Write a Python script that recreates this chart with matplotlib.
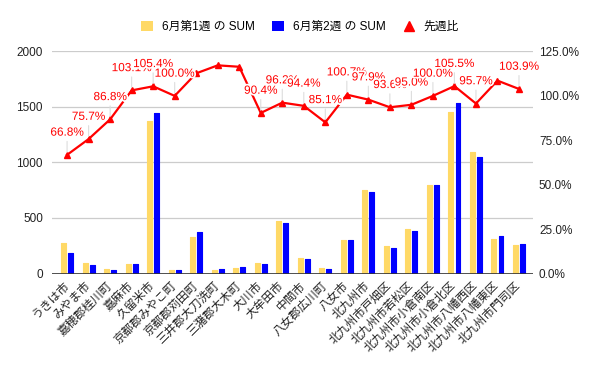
import matplotlib
matplotlib.use('Agg')
import matplotlib.pyplot as plt
from matplotlib.patches import Patch
from matplotlib.lines import Line2D
import matplotlib.patheffects as pe
import numpy as np

plt.rcParams['font.family'] = ['Liberation Sans', 'Noto Sans CJK JP', 'DejaVu Sans']

categories = ['うきは市', 'みやま市', '嘉穂郡桂川町', '嘉麻市', '久留米市', '京都郡みやこ町',
              '京都郡苅田町', '三井郡大刀洗町', '三潴郡大木町', '大川市', '大牟田市', '中間市',
              '八女郡広川町', '八女市', '北九州市', '北九州市戸畑区', '北九州市若松区',
              '北九州市小倉南区', '北九州市小倉北区', '北九州市八幡西区', '北九州市八幡東区',
              '北九州市門司区']
week1 = [272, 99, 38, 82, 1375, 30, 328, 34, 50, 92, 470, 136, 47, 300, 748, 245, 400,
         795, 1453, 1095, 308, 255]
week2 = [182, 75, 33, 85, 1449, 30, 370, 40, 58, 83, 452, 128, 40, 302, 732, 229, 380,
         795, 1533, 1048, 335, 265]
ratio = [66.8, 75.7, 86.8, 103.1, 105.4, 100.0, 112.7, 117.2, 116.4, 90.4, 96.2, 94.4,
         85.1, 100.7, 97.9, 93.6, 95.0, 100.0, 105.5, 95.7, 108.6, 103.9]
show_label = [True] * 6 + [False] * 3 + [True] * 11 + [False, True]

series_names = ['6月第1週 の SUM', '6月第2週 の SUM', '先週比']
left_ticks = [0, 500, 1000, 1500, 2000]
right_ticks = [0, 25, 50, 75, 100, 125]

c1, c2, c3 = '#ffd966', '#0000ff', '#ff0000'

fig = plt.figure(figsize=(6, 3.71), dpi=100)
ax = fig.add_axes([0.0867, 0.2628, 0.8016, 0.5984])
x = np.arange(len(categories))
off, w = 0.165, 0.23
ax.bar(x - off, week1, width=w, color=c1, edgecolor=c1, linewidth=0.8, joinstyle='round', zorder=2)
ax.bar(x + off, week2, width=w, color=c2, edgecolor=c2, linewidth=0.8, joinstyle='round', zorder=2)
ax.set_xlim(-0.7, len(categories) - 1 + 0.65)
ax.set_ylim(0, 2000)
ax.set_yticks(left_ticks)
ax.set_yticklabels([str(t) for t in left_ticks])
ax.yaxis.grid(True, color='#cccccc', lw=0.9)
ax.set_axisbelow(True)
for s in ax.spines.values():
    s.set_visible(False)
ax.axhline(0, color='#333333', lw=1.2, zorder=3)
ax.set_xticks(x)
ax.set_xticklabels(categories, rotation=45, ha='right', va='center', rotation_mode='anchor',
                   fontsize=8.5, color='#222222')
ax.tick_params(axis='x', length=0, pad=7.5)
ax.tick_params(axis='y', length=0, pad=6.5, labelsize=8.5, labelcolor='#222222')

ax2 = ax.twinx()
ax2.set_ylim(0, 125)
for s in ax2.spines.values():
    s.set_visible(False)
ax2.set_yticks(right_ticks)
ax2.set_yticklabels([f'{t:.1f}%' for t in right_ticks])
ax2.tick_params(axis='y', length=0, pad=4.3, labelsize=8.5, labelcolor='#222222')
ax2.plot(x, ratio, color=c3, lw=1.6, marker='^', ms=5, zorder=2)
for i, (v, s) in enumerate(zip(ratio, show_label)):
    if s:
        ax2.annotate(f'{v:.1f}%', xy=(x[i], v), xytext=(0, 16), textcoords='offset points',
                     ha='center', va='center', color=c3, fontsize=8.5,
                     path_effects=[pe.withStroke(linewidth=2.5, foreground='white')],
                     arrowprops=dict(arrowstyle='-', color='#dddddd', lw=0.8,
                                     shrinkA=0, shrinkB=2))

handles = [Patch(facecolor=c1, edgecolor='none'), Patch(facecolor=c2, edgecolor='none'),
           Line2D([], [], marker='^', color=c3, linestyle='none', markersize=7)]
fig.legend(handles, series_names, loc='center', bbox_to_anchor=(0.5, 0.927), ncol=3,
           frameon=False, fontsize=8.5, handlelength=1.0, handleheight=1.0,
           handletextpad=0.75, columnspacing=1.5)

fig.savefig('out.png', dpi=100)
